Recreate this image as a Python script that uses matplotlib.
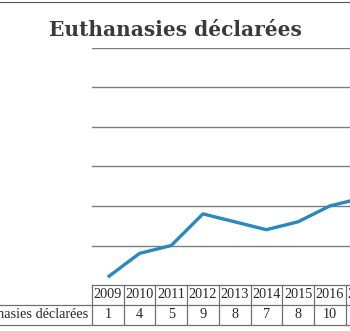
import matplotlib.pyplot as plt
from matplotlib.lines import Line2D

# data ---------------------------------------------------------------
years = [2009, 2010, 2011, 2012, 2013, 2014, 2015, 2016, 2017]
values = [1, 4, 5, 9, 8, 7, 8, 10, 11]
row_label = "Euthanasies déclarées"
title = "Euthanasies déclarées"

W, H = 350, 331
fig = plt.figure(figsize=(W / 100, H / 100), dpi=100)
fig.set_facecolor("white")

# axes: left edge at 92 px, right edge off the crop (scan is cut)
left_px, bottom_px, top_px = 92, 285, 48
col_w = 31.7
ax = fig.add_axes([left_px / W, (H - bottom_px) / H,
                   len(years) * col_w / W, (bottom_px - top_px) / H])

x = list(range(len(years)))
ax.plot(x, values, color="#2b88bf", lw=2.4, solid_capstyle="butt", zorder=3)
ax.set_xlim(-0.5, len(years) - 0.5)
ax.set_ylim(0, 30)
ax.set_yticks([5, 10, 15, 20, 25, 30])
ax.grid(axis="y", color="#7c7c7c", lw=1.0)
ax.tick_params(length=0, labelleft=False, labelbottom=False)
ax.set_xticks([])
for sp in ax.spines.values():
    sp.set_visible(False)

# data table under the axis ----------------------------------------
row_h = 20 / (bottom_px - top_px)      # one table row in axes fraction
tr = ax.get_xaxis_transform()          # x in data, y in axes fraction
edge = dict(color="#707070", lw=0.9, transform=tr, clip_on=False)
tfont = dict(family="Liberation Serif", fontsize=10.3, color="#262626",
             transform=tr, clip_on=False, ha="center", va="center")

ax.add_line(Line2D([-0.5, len(years) - 0.5], [0, 0], **edge))
ax.add_line(Line2D([-4, len(years) - 0.5], [-row_h, -row_h], **edge))
ax.add_line(Line2D([-4, len(years) - 0.5], [-2 * row_h, -2 * row_h], **edge))
for i in range(len(years) + 1):
    ax.add_line(Line2D([i - 0.5, i - 0.5], [0, -2 * row_h], **edge))
for i, (yr, v) in enumerate(zip(years, values)):
    ax.text(i, -0.5 * row_h, str(yr), **tfont)
    ax.text(i, -1.5 * row_h, str(v), **tfont)
ax.text(-0.62, -1.5 * row_h, row_label, family="Liberation Serif",
        fontsize=10.3, color="#262626", transform=tr, clip_on=False,
        ha="right", va="center")

# title
fig.text(0.5, 1 - 30 / H, title, family="DejaVu Serif", weight="bold",
         fontsize=14.5, color="#3a3a3a", ha="center", va="center")

# thin rule at the very top of the scan
fig.add_artist(Line2D([0, 1], [1 - 1.5 / H, 1 - 1.5 / H], color="#555555",
                      lw=0.8, transform=fig.transFigure))

fig.savefig("out.png", dpi=100, facecolor="white")
